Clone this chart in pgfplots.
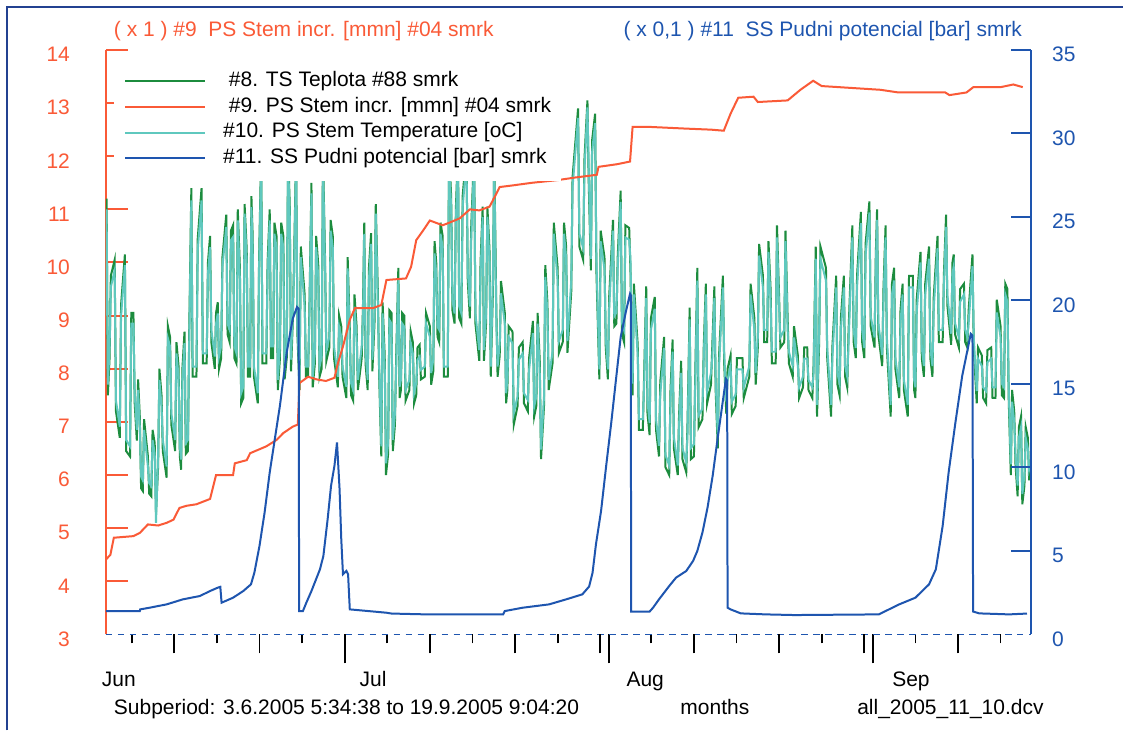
\documentclass[border=0pt]{standalone}
\usepackage{fontspec}
\setmainfont{Liberation Sans}
\usepackage{pgfplots}
\usepackage{pgfplotstable}
\pgfplotsset{compat=1.18}

\definecolor{cRed}{RGB}{250,90,55}
\definecolor{cBlue}{RGB}{30,85,175}
\definecolor{cGreen}{RGB}{28,140,62}
\definecolor{cTeal}{RGB}{95,200,190}
\definecolor{cFrame}{RGB}{35,65,145}

% days since 1 June 2005; temperatures on the left scale
\pgfplotstableread{
t teal green
1.98 9.0 9.0
2.05 11.0 11.2
2.20 7.7 7.5
2.40 8.42 8.2
2.55 9.54 9.75
3.00 9.85 10.05
3.15 7.4 7.2
3.60 6.91 6.7
3.75 9.0 9.2
4.20 9.95 10.15
4.35 6.66 6.45
4.80 6.54 6.35
4.95 8.85 9.05
5.20 8.85 9.05
5.35 7.54 7.35
5.60 6.85 6.65
5.75 7.6 7.8
5.95 6.91 7.1
6.10 5.97 5.75
6.30 5.9 5.7
6.45 6.85 7.05
6.90 6.16 6.35
7.05 5.85 5.65
7.30 5.79 5.6
7.45 6.66 6.85
7.70 6.4 6.6
7.85 5.1 5.3
8.10 6.35 6.15
8.25 7.79 8.0
8.50 7.29 7.5
8.65 6.66 6.45
9.10 6.16 5.95
9.25 8.57 8.8
9.50 8.42 8.6
9.65 7.16 6.95
10.10 6.66 6.45
10.25 8.29 8.5
10.50 7.85 8.05
10.65 6.54 6.35
10.80 6.29 6.1
10.95 7.79 8.0
11.20 8.48 8.7
11.35 6.6 6.4
11.60 6.66 6.45
11.75 8.48 8.7
12.00 11.17 11.4
12.15 8.04 7.85
12.60 8.04 7.85
12.75 10.23 10.45
13.20 11.17 11.4
13.35 8.29 8.1
13.80 8.29 8.1
13.95 9.79 10.0
14.20 10.29 10.5
14.35 8.73 8.5
14.75 8.23 8.0
14.90 8.85 9.05
15.10 9.04 9.25
15.25 8.23 8.0
15.50 8.42 8.2
15.65 9.92 10.1
16.10 10.67 10.9
16.25 8.85 8.65
16.50 8.73 8.5
16.65 10.42 10.6
16.90 10.48 10.7
17.05 8.42 8.2
17.30 8.29 8.1
17.45 10.79 11.0
17.70 9.67 9.9
17.85 7.54 7.35
18.10 7.66 7.45
18.25 10.92 11.1
18.50 10.04 10.25
18.65 8.04 7.85
18.90 8.04 7.85
19.05 11.04 11.25
19.20 10.29 10.5
19.35 8.04 7.85
19.80 7.54 7.35
19.95 9.85 10.05
20.20 11.9 12.1
20.35 8.29 8.1
20.80 8.29 8.1
20.95 9.79 10.0
21.20 10.79 11.0
21.35 8.42 8.2
21.60 8.42 8.2
21.75 10.54 10.75
22.00 10.29 10.5
22.15 7.79 7.6
22.40 8.42 8.2
22.55 10.54 10.75
22.80 10.29 10.5
22.95 7.98 7.8
23.20 8.42 8.2
23.35 11.9 12.1
23.55 10.92 11.1
23.70 8.17 7.95
23.90 9.04 8.85
24.05 9.79 10.0
24.30 11.9 12.1
24.45 8.85 8.65
24.70 7.79 7.6
24.85 10.1 10.3
25.30 9.17 9.4
25.45 8.04 7.85
25.70 8.04 7.85
25.85 8.85 9.05
26.10 11.3 11.5
26.25 7.85 7.65
26.50 8.29 8.1
26.65 10.29 10.5
26.90 9.73 9.95
27.05 8.04 7.85
27.30 8.23 8.0
27.45 11.9 12.1
27.70 9.85 10.05
27.85 8.35 8.15
28.20 8.6 8.4
28.35 10.6 10.8
28.60 10.29 10.5
28.75 8.42 8.2
29.20 7.85 7.65
29.35 8.79 9.0
29.60 8.6 8.8
29.75 8.04 7.85
30.20 7.66 7.45
30.35 9.89 10.1
30.60 8.54 8.75
30.75 7.73 7.5
31.00 7.6 7.4
31.15 9.17 9.4
31.40 8.6 8.8
31.55 7.79 7.6
32.00 8.42 8.2
32.15 8.98 9.2
32.30 10.54 10.75
32.45 8.29 8.1
32.70 7.79 7.6
32.85 9.67 9.9
33.10 10.35 10.55
33.25 8.17 7.95
33.50 9.04 8.85
33.65 10.92 11.1
33.90 9.17 9.4
34.05 8.04 7.85
34.30 6.54 6.35
34.45 9.04 9.25
34.70 8.04 8.25
34.85 6.22 6.0
35.10 6.6 6.4
35.25 8.92 9.1
35.50 8.85 9.05
35.65 6.66 6.45
35.90 7.16 6.95
36.05 8.04 8.25
36.30 9.67 9.9
36.45 7.66 7.45
36.60 7.79 7.6
36.75 8.85 9.05
37.00 8.79 9.0
37.15 7.6 7.4
37.60 7.79 7.6
37.75 8.48 8.7
38.00 8.29 8.5
38.15 7.54 7.35
38.40 7.73 7.5
38.55 8.17 8.4
38.80 8.23 8.45
38.95 7.98 7.8
39.40 8.04 7.85
39.55 8.85 9.05
40.00 8.6 8.8
40.15 7.92 7.7
40.40 8.17 7.95
40.55 10.17 10.4
40.75 9.79 10.0
40.90 8.79 8.6
41.10 8.73 8.5
41.25 10.54 10.75
41.50 10.29 10.5
41.65 8.04 7.85
42.10 8.04 7.85
42.25 11.9 12.1
42.50 11.04 11.25
42.65 9.29 9.1
42.90 9.04 8.85
43.05 10.79 11.0
43.30 11.9 12.1
43.45 9.17 8.95
43.70 9.04 8.85
43.85 11.04 11.25
44.30 11.9 12.1
44.45 9.85 9.65
44.70 9.17 8.95
44.85 10.42 10.65
45.20 11.9 12.1
45.35 9.04 8.85
45.80 8.35 8.15
45.95 9.79 10.0
46.20 10.86 11.05
46.35 8.35 8.15
46.60 9.04 8.85
46.75 10.86 11.05
47.00 10.04 10.25
47.15 8.04 7.85
47.40 9.67 9.45
47.55 11.9 12.1
47.80 8.92 9.15
47.95 8.04 7.85
48.20 8.48 8.25
48.35 9.42 9.65
48.80 8.85 9.05
48.95 7.54 7.35
49.10 7.79 7.6
49.25 8.6 8.8
49.70 8.48 8.7
49.85 7.16 6.95
50.30 7.48 7.3
50.45 8.17 8.4
50.90 8.29 8.5
51.05 7.54 7.35
51.50 7.41 7.2
51.65 7.98 8.2
52.10 8.67 8.9
52.25 7.29 7.1
52.50 7.48 7.3
52.65 8.85 9.05
52.90 7.92 8.15
53.05 6.48 6.3
53.40 7.48 7.3
53.55 9.73 9.95
53.80 9.04 9.25
53.95 7.79 7.6
54.40 8.32 8.1
54.55 10.54 10.75
55.00 9.66 9.9
55.15 8.52 8.3
55.60 8.73 8.5
55.75 10.54 10.75
56.00 10.07 10.3
56.15 8.52 8.3
56.60 9.66 9.45
56.75 11.41 11.6
57.40 12.72 12.9
57.55 10.54 10.3
58.00 10.27 10.05
58.15 11.74 11.95
58.50 12.92 13.05
58.65 11.74 11.5
58.90 10.07 9.85
59.05 12.08 12.3
59.40 12.62 12.8
59.55 10.07 9.85
59.90 7.99 7.8
60.05 10.4 10.6
60.50 9.87 10.1
60.65 8.59 8.4
60.90 7.99 7.8
61.05 9.13 9.35
61.50 10.6 10.8
61.65 8.99 8.8
61.90 9.06 8.85
62.05 9.87 10.1
62.40 11.14 11.35
62.55 8.86 8.65
62.80 8.73 8.5
62.95 10.47 10.7
63.40 10.43 10.65
63.55 10.07 9.85
63.80 7.72 7.5
63.95 9.4 9.6
64.40 8.26 8.45
64.55 7.05 6.85
65.00 7.05 6.85
65.15 7.65 7.85
65.40 9.33 9.55
65.55 7.38 7.15
65.80 6.98 6.75
65.95 8.73 8.95
66.40 9.13 9.35
66.55 7.05 6.85
66.90 6.55 6.35
67.05 7.52 7.75
67.50 8.39 8.6
67.65 6.38 6.15
68.10 6.18 6.0
68.25 7.38 7.6
68.50 8.32 8.55
68.65 6.71 6.5
69.10 6.18 6.0
69.25 6.91 7.1
69.50 7.92 8.15
69.65 6.51 6.3
70.10 6.24 6.05
70.25 6.78 7.0
70.50 8.93 9.15
70.65 6.51 6.3
71.00 6.58 6.35
71.15 7.65 7.85
71.40 9.66 9.9
71.55 7.12 6.9
72.00 7.25 7.05
72.15 8.19 8.4
72.40 9.4 9.6
72.55 7.58 7.35
73.00 7.92 7.7
73.15 8.19 8.4
73.40 9.33 9.55
73.55 7.79 7.6
73.80 6.71 6.5
73.95 8.05 8.25
74.40 9.53 9.75
74.55 8.32 8.1
74.80 7.38 7.15
74.95 7.79 8.0
75.30 8.05 8.25
75.45 7.38 7.15
75.90 7.52 7.3
76.05 7.99 8.2
76.70 7.99 8.2
76.85 7.65 7.45
77.50 8.05 7.85
77.65 9.4 9.6
78.10 8.73 8.95
78.25 7.92 7.7
78.50 8.59 8.4
78.65 10.13 10.35
79.10 9.53 9.75
79.25 8.73 8.5
79.60 8.73 8.5
79.75 10.2 10.4
80.00 9.26 9.5
80.15 8.32 8.1
80.60 8.32 8.1
80.75 10.47 10.7
81.00 9.13 9.35
81.15 8.59 8.4
81.60 8.73 8.5
81.75 10.4 10.6
82.00 8.73 8.95
82.15 8.32 8.1
82.60 8.05 7.85
82.75 8.59 8.8
83.20 8.05 8.25
83.35 7.65 7.45
83.80 7.85 7.65
83.95 8.19 8.4
84.30 8.19 8.4
84.45 7.79 7.6
84.90 7.65 7.45
85.05 7.92 8.1
85.30 10.07 10.3
85.45 7.32 7.1
85.70 8.73 8.5
85.85 10.07 10.3
86.50 9.66 9.9
86.65 8.39 8.2
87.10 7.32 7.1
87.25 8.19 8.4
87.70 9.53 9.75
87.85 7.92 7.7
88.10 7.72 7.5
88.25 8.73 8.95
88.60 9.53 9.75
88.75 8.05 7.85
89.00 7.85 7.65
89.15 8.46 8.7
89.60 10.47 10.7
89.75 8.73 8.5
90.00 8.39 8.2
90.15 9.53 9.75
90.60 10.74 10.95
90.75 8.73 8.5
91.00 8.39 8.2
91.15 10.13 10.35
91.60 10.94 11.15
91.75 8.99 8.8
92.20 8.59 8.4
92.35 9.93 10.15
92.50 10.8 11.0
92.65 8.86 8.65
93.10 8.26 8.05
93.25 9.26 9.5
93.50 10.47 10.7
93.65 8.59 8.4
94.10 7.32 7.1
94.25 9.4 9.6
94.50 9.66 9.9
94.65 8.19 8.0
95.10 7.65 7.45
95.25 8.86 9.1
95.50 9.4 9.6
95.65 7.79 7.6
96.10 7.32 7.1
96.25 9.53 9.75
96.70 9.53 9.75
96.85 7.79 7.6
97.00 7.65 7.45
97.15 9.06 9.3
97.60 10.0 10.2
97.75 8.39 8.2
98.00 8.05 7.85
98.15 9.4 9.6
98.60 10.07 10.3
98.75 8.39 8.2
99.00 8.05 7.85
99.15 9.13 9.35
99.60 10.27 10.5
99.75 8.73 8.5
100.20 8.73 8.5
100.35 9.6 9.8
100.60 10.67 10.9
100.75 9.4 9.2
101.20 8.66 8.45
101.35 9.8 10.0
101.50 9.93 10.15
101.65 8.86 8.65
102.10 8.59 8.4
102.25 9.26 9.5
102.70 9.4 9.6
102.85 8.73 8.5
103.10 8.59 8.4
103.25 8.86 9.1
103.70 9.93 10.15
103.85 8.59 8.4
104.20 7.58 7.35
104.35 8.19 8.4
104.80 8.05 8.25
104.95 7.65 7.45
105.30 7.58 7.35
105.45 8.12 8.35
105.90 8.19 8.4
106.05 7.65 7.45
106.40 7.65 7.45
106.55 9.06 9.3
107.00 8.59 8.8
107.15 7.72 7.5
107.40 7.65 7.45
107.55 9.4 9.6
107.80 9.26 9.5
107.95 7.65 7.45
108.20 6.2 6.0
108.35 7.38 7.6
108.60 7.0 7.2
108.75 6.4 6.2
109.00 5.8 5.6
109.15 6.7 6.9
109.40 6.9 7.1
109.55 5.64 5.45
109.80 6.0 5.8
109.95 6.7 6.9
110.20 6.5 6.7
110.35 6.1 5.9
110.50 6.2 6.1
}\temps

\begin{document}
\begin{tikzpicture}[font=\fontsize{10.5}{12.6}\selectfont]
% page and window frame (1 px = 0.5 pt, axis origin at px 106,635)
\fill[white] (-53pt,-48pt) rectangle (509pt,317.5pt);
\draw[cFrame, line width=1pt] (-49.5pt,-48pt) -- (-49.5pt,313.8pt) -- (509pt,313.8pt);

% x axis: dashed base line and month ticks
\begin{axis}[
  scale only axis, width=463pt, height=292.5pt,
  xmin=1.97, xmax=110.58, ymin=0, ymax=1,
  axis y line=none, axis x line*=bottom,
  x axis line style={cBlue, line width=0.9pt, dash pattern=on 3.2pt off 2.8pt, -},
  tick align=outside,
  xtick={30,61,92}, xticklabels={},
  major tick length=14.5pt, minor tick length=4.5pt,
  minor xtick={5,15,25,35,45,55,66,76,86,97,107},
  extra x ticks={10,20,40,50,60,71,81,91,102},
  extra x tick labels={},
  extra x tick style={major tick length=9.5pt},
  xtick style={black, line width=0.9pt},
  minor x tick style={black, line width=0.9pt},
]
\end{axis}

% left scale: temperatures and stem increment
\begin{axis}[
  scale only axis, width=463pt, height=292.5pt,
  xmin=1.97, xmax=110.58, ymin=3, ymax=14,
  axis x line=none, axis y line*=left,
  y axis line style={cRed, line width=1pt, -},
  xtick=\empty,
  ytick={4,...,14},
  extra y ticks={3}, extra y tick style={major tick length=0pt},
  tick align=inside, major tick length=11pt,
  ytick style={cRed, line width=1pt},
  yticklabel style={text=cRed, anchor=east, xshift=-14.5pt, yshift=-2.3pt},
  /pgf/number format/assume math mode=true,
  legend cell align=left,
  legend image code/.code={\draw[#1, line width=1pt] (0pt,0pt) -- (40pt,0pt);},
  legend style={at={(0.0086,0.9863)}, anchor=north west, draw=none, fill=white,
    inner xsep=5pt, inner ysep=5pt,
    nodes={inner sep=0pt, text height=9pt, text depth=3.85pt},
    /tikz/every odd column/.append style={column sep=8.5pt}},
]
\addplot[cGreen, line width=1pt, forget plot] table[x=t, y=green] {\temps};
\addplot[cTeal, line width=1pt, forget plot] table[x=t, y=teal] {\temps};
\addplot[cRed, line width=1pt, forget plot] coordinates {
 (1.98,4.41) (2.5,4.5) (2.9,4.82) (5.2,4.85) (5.95,4.91) (6.9,5.07) (8.1,5.05)
 (9.1,5.1) (9.9,5.16) (10.6,5.38) (11.4,5.42) (12.6,5.45) (13.4,5.5) (14.2,5.55)
 (14.9,6.0) (16.9,6.0) (17.1,6.22) (18.5,6.28) (18.9,6.41) (20.8,6.54) (22.0,6.66)
 (22.8,6.79) (23.9,6.91) (24.5,6.95) (24.7,7.73) (25.7,7.85) (26.7,7.8) (27.8,7.77)
 (28.8,7.83) (29.2,8.1) (29.8,8.42) (30.6,8.92) (31.2,9.14) (33.3,9.14) (34.3,9.2)
 (34.9,9.67) (37.2,9.7) (37.8,9.92) (38.4,10.42) (39.2,10.6) (40.0,10.79) (41.5,10.7)
 (42.3,10.75) (43.5,10.83) (44.7,11.0) (45.8,10.98) (47.0,11.05) (47.6,11.23)
 (48.2,11.42) (49.7,11.45) (52,11.5) (55,11.55) (57.1,11.6) (59.6,11.65) (59.8,11.8)
 (62,11.85) (63.5,11.9) (63.8,12.55) (66,12.55) (70,12.52) (73,12.5) (74.5,12.48)
 (75.3,12.8) (76.2,13.1) (78.0,13.12) (78.5,13.02) (82.0,13.05) (83.5,13.25)
 (85.0,13.42) (86,13.32) (88,13.3) (92.9,13.25) (95,13.2) (100.5,13.2) (101,13.15)
 (103,13.2) (103.8,13.3) (107,13.3) (108.5,13.35) (109.6,13.3)
};
\addlegendimage{cGreen}\addlegendentry{\ \#8. TS Teplota \#88 smrk}
\addlegendimage{cRed}\addlegendentry{\ \#9. PS Stem incr. [mmn] \#04 smrk}
\addlegendimage{cTeal}\addlegendentry{\#10. PS Stem Temperature [oC]}
\addlegendimage{cBlue}\addlegendentry{\#11. SS Pudni potencial [bar] smrk}
\end{axis}

% right scale: water potential
\begin{axis}[
  scale only axis, width=463pt, height=292.5pt,
  xmin=1.97, xmax=110.58, ymin=0, ymax=35,
  axis x line=none, axis y line*=right,
  y axis line style={cBlue, line width=1pt, -},
  xtick=\empty,
  ytick={5,10,...,35},
  extra y ticks={0}, extra y tick style={major tick length=0pt},
  tick align=inside, major tick length=10pt,
  ytick style={cBlue, line width=1pt},
  yticklabel style={text=cBlue, anchor=west, xshift=7pt, yshift=-2.2pt},
  /pgf/number format/assume math mode=true,
]
\addplot[cBlue, line width=1pt] coordinates {
 (1.98,1.4) (5.95,1.4) (6.0,1.5) (7.1,1.6) (9.1,1.8) (11.0,2.1) (13.0,2.3) (14.2,2.6)
 (15.1,2.8) (15.4,2.85) (15.55,1.9) (16.9,2.2) (18.1,2.6) (19.0,3.0) (19.4,3.7)
 (20.0,5.3) (20.6,7.3) (21.2,9.7) (21.8,11.7) (22.4,13.7) (23.2,16.9) (23.9,18.9)
 (24.4,19.6) (24.6,19.5) (24.65,1.4) (25.1,1.4) (25.5,1.9) (26.1,2.6) (27.1,3.9)
 (27.5,4.7) (28.0,6.9) (28.4,8.9) (28.8,10.1) (29.1,11.5) (29.4,8.7) (29.6,5.7)
 (29.8,3.6) (30.2,3.8) (30.4,3.6) (30.6,1.5) (34.9,1.3) (35.5,1.25) (39.6,1.2)
 (48.6,1.2) (48.8,1.4) (50.9,1.6) (54.0,1.8) (56.0,2.1) (57.9,2.4) (58.7,2.87)
 (59.1,3.7) (59.5,5.4) (60.1,7.4) (60.7,10.1) (61.3,12.7) (61.9,15.5) (62.4,17.8)
 (63.0,19.3) (63.5,20.4) (63.6,20.3) (63.62,1.37) (65.8,1.37) (66.2,1.6) (66.9,2.1)
 (68.1,2.9) (68.9,3.4) (70.1,3.8) (70.9,4.4) (71.4,5.0) (72.0,6.1) (72.6,7.6)
 (73.2,9.5) (73.8,11.8) (74.4,14.0) (74.76,15.3) (74.9,15.2) (74.95,1.6) (75.3,1.5)
 (76.5,1.26) (79.4,1.2) (82.8,1.16) (92.7,1.2) (93.5,1.4) (95.1,1.8) (97.0,2.2)
 (98.6,3.0) (99.4,3.9) (100.2,6.5) (100.9,9.7) (101.7,12.7) (102.5,15.5) (103.1,17.0)
 (103.5,18.0) (103.7,17.9) (103.77,1.37) (104.5,1.26) (108.0,1.2) (110.1,1.25)
};
\end{axis}

% titles and captions
\node[anchor=base west, text=cRed] at (0.5pt,299pt) {( x 1 ) \#9 \ PS Stem incr. [mmn] \#04 smrk};
\node[anchor=base east, text=cBlue] at (462pt,299pt) {( x 0,1 ) \#11 \ SS Pudni potencial [bar] smrk};
\node[anchor=base west] at (-5.5pt,-26pt) {Jun};
\node[anchor=base west] at (123.5pt,-26pt) {Jul};
\node[anchor=base west] at (257pt,-26pt) {Aug};
\node[anchor=base west] at (390pt,-26pt) {Sep};
\node[anchor=base west] at (0.5pt,-40.25pt) {Subperiod: 3.6.2005 5:34:38 to 19.9.2005 9:04:20};
\node[anchor=base] at (304.75pt,-40.25pt) {months};
\node[anchor=base west] at (372.5pt,-40.25pt) {all\_2005\_11\_10.dcv};
\end{tikzpicture}
\end{document}
